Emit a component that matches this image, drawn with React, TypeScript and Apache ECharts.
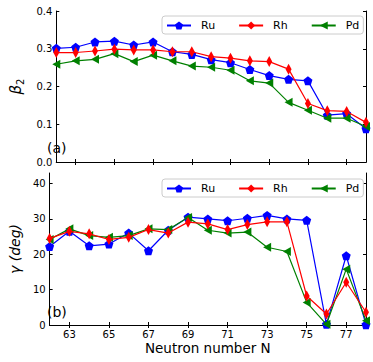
import React, { useEffect, useRef } from "react";
import * as echarts from "echarts";

const N = [62, 63, 64, 65, 66, 67, 68, 69, 70, 71, 72, 73, 74, 75, 76, 77, 78];
const xTicks = [63, 65, 67, 69, 71, 73, 75, 77];
const betaTicks = [0, 0.1, 0.2, 0.3, 0.4];
const gammaTicks = [0, 10, 20, 30, 40];

const betaRu = [0.301, 0.304, 0.318, 0.32, 0.31, 0.318, 0.292, 0.285, 0.271, 0.263, 0.245, 0.229, 0.219, 0.215, 0.124, 0.128, 0.088];
const betaRh = [0.29, 0.29, 0.294, 0.299, 0.297, 0.297, 0.292, 0.292, 0.279, 0.275, 0.268, 0.266, 0.246, 0.155, 0.136, 0.134, 0.105];
const betaPd = [0.259, 0.268, 0.272, 0.287, 0.266, 0.283, 0.268, 0.254, 0.251, 0.243, 0.215, 0.209, 0.158, 0.137, 0.116, 0.116, 0.094];

const gammaRu = [22.2, 26.5, 22.4, 22.9, 26.0, 21.0, 26.8, 30.5, 30.0, 29.5, 30.2, 31.0, 30.0, 29.6, 0.2, 19.6, 0.1];
const gammaRh = [24.5, 26.5, 25.8, 24.2, 24.8, 27.0, 26.0, 29.1, 28.6, 27.0, 28.4, 29.2, 29.2, 8.2, 3.1, 12.1, 3.6];
const gammaPd = [24.2, 27.2, 25.3, 24.8, 25.3, 27.2, 27.0, 30.4, 26.8, 26.0, 26.3, 22.0, 20.8, 6.4, 0.2, 15.8, 1.2];

const FONT = "DejaVu Sans";
const PENTAGON = "path://M0,-1L0.951,-0.309L0.588,0.809L-0.588,0.809L-0.951,-0.309Z";
const LEFT_TRI = "path://M0,5L10,0L10,10Z";

const pairs = (ys: number[]) => N.map((n, i) => [n, ys[i]]);

export default function App() {
  const ref = useRef<HTMLDivElement>(null);
  useEffect(() => {
    if (!ref.current) return;
    const chart = echarts.init(ref.current, null, { renderer: "svg" });
    const axisLine = { show: true, lineStyle: { color: "#000", width: 1 } };
    const tick = (vals: number[]) => ({ show: true, inside: true, length: 3, customValues: vals, lineStyle: { color: "#000" } });
    const xBase = (gridIndex: number, position: string, showLabel: boolean, name?: string) => ({
      type: "value",
      gridIndex,
      position,
      min: 62,
      max: 78,
      axisLine,
      axisTick: tick(xTicks),
      splitLine: { show: false },
      axisLabel: { show: showLabel, customValues: xTicks, fontSize: 10, color: "#000", fontFamily: FONT, margin: 4 },
      name: name || "",
      nameLocation: "middle",
      nameGap: 16,
      nameTextStyle: { fontSize: 13.5, color: "#000", fontFamily: FONT },
    });
    const yBase = (gridIndex: number, position: string, showLabel: boolean, max: number, ticks: number[], fmt: (v: number) => string, name?: string, nameStyle?: any, nameGap?: number) => ({
      type: "value",
      gridIndex,
      position,
      min: 0,
      max,
      axisLine,
      axisTick: tick(ticks),
      splitLine: { show: false },
      axisLabel: { show: showLabel, customValues: ticks, fontSize: 10, color: "#000", fontFamily: FONT, margin: 4, formatter: fmt },
      name: name || "",
      nameLocation: "middle",
      nameGap: nameGap || 20,
      nameTextStyle: nameStyle || {},
    });
    const mk = (name: string, color: string, data: number[][], xi: number, yi: number, symbol: string, size: any, z: number) => ({
      name,
      type: "line",
      xAxisIndex: xi,
      yAxisIndex: yi,
      data,
      symbol,
      symbolSize: size,
      z,
      lineStyle: { color, width: 1.2 },
      itemStyle: { color },
      clip: true,
    });
    const legend = (top: number) => ({
      left: 162,
      top,
      orient: "horizontal",
      itemWidth: 24,
      itemHeight: 10,
      itemGap: 23,
      padding: [4, 4, 3, 4],
      borderColor: "#cccccc",
      borderWidth: 1,
      borderRadius: 3,
      backgroundColor: "#fff",
      data: ["Ru", "Rh", "Pd"],
      selectedMode: false,
      textStyle: { fontSize: 11, color: "#000", fontFamily: FONT, padding: [0, 0, 0, 5] },
    });
    chart.setOption({
      animation: false,
      textStyle: { fontFamily: FONT },
      grid: [
        { left: 43, right: 7, top: 11, height: 151 },
        { left: 43, right: 7, top: 173, height: 152 },
      ],
      xAxis: [
        xBase(0, "bottom", false),
        xBase(0, "top", false),
        xBase(1, "bottom", true, "Neutron number N"),
        xBase(1, "top", false),
      ],
      yAxis: [
        yBase(0, "left", true, 0.4, betaTicks, (v: number) => v.toFixed(1), "{b|β}{s|2}", {
          color: "#000",
          rich: {
            b: { fontSize: 15, fontStyle: "italic", fontFamily: FONT, color: "#000", lineHeight: 20 },
            s: { fontSize: 10, fontFamily: FONT, color: "#000", verticalAlign: "bottom" },
          },
        }, 21),
        yBase(0, "right", false, 0.4, betaTicks, (v: number) => v.toFixed(1)),
        yBase(1, "left", true, 43, gammaTicks, (v: number) => String(v), "γ (deg)", {
          color: "#000", fontSize: 14, fontStyle: "italic", fontFamily: FONT,
        }, 19),
        yBase(1, "right", false, 43, gammaTicks, (v: number) => String(v)),
      ],
      legend: [legend(16), legend(179)],
      graphic: [
        { type: "text", left: 47, top: 141, style: { text: "(a)", fontSize: 14, fontFamily: FONT, fill: "#000" } },
        { type: "text", left: 47, top: 305, style: { text: "(b)", fontSize: 14, fontFamily: FONT, fill: "#000" } },
      ],
      series: [
        mk("Ru", "#0000ff", pairs(betaRu), 0, 0, PENTAGON, 9, 2),
        mk("Pd", "#008000", pairs(betaPd), 0, 0, LEFT_TRI, [8, 9], 3),
        mk("Rh", "#ff0000", pairs(betaRh), 0, 0, "diamond", [6, 11], 4),
        mk("Ru", "#0000ff", pairs(gammaRu), 2, 2, PENTAGON, 9, 2),
        mk("Pd", "#008000", pairs(gammaPd), 2, 2, LEFT_TRI, [8, 9], 3),
        mk("Rh", "#ff0000", pairs(gammaRh), 2, 2, "diamond", [6, 11], 4),
      ],
    });
    return () => chart.dispose();
  }, []);
  return <div ref={ref} style={{ width: 373, height: 362, position: "absolute", left: 0, top: 0 }} />;
}
